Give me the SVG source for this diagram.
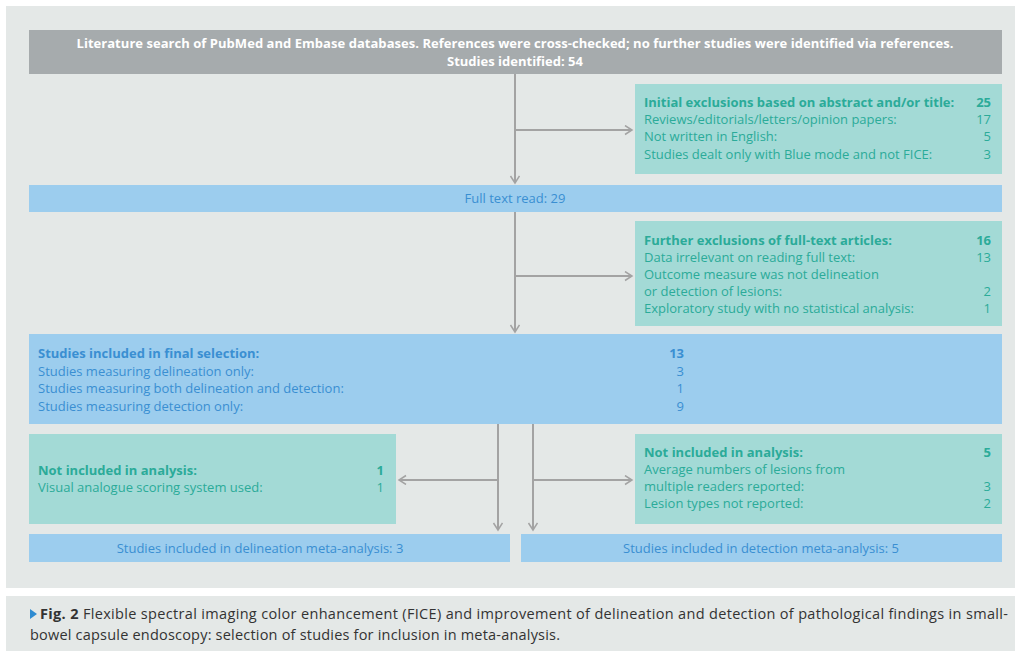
<svg xmlns="http://www.w3.org/2000/svg" width="1021" height="651" viewBox="0 0 1021 651">
<defs>
<style>
text{font-family:"Open Sans","Liberation Sans",sans-serif;font-size:13px}
.b{font-weight:bold}
.w{fill:#ffffff}
.t{fill:#2bab99}
.u{fill:#3a8fd2}
.e{text-anchor:end}
.m{text-anchor:middle}
.bg{fill:#e4e8e7}
.gray{fill:#a6abad}
.teal{fill:#a3dad6}
.blue{fill:#9ccdee}
.c{stroke:#a3a3a3;stroke-width:2;fill:none}
.cap{fill:#333333;font-size:14.5px}
</style>
<marker id="ah" markerUnits="userSpaceOnUse" markerWidth="12" markerHeight="12" refX="8" refY="5" orient="auto">
<path d="M1,0.5 L8,5 L1,9.5" fill="none" stroke="#a3a3a3" stroke-width="1.5"/>
</marker>
</defs>
<rect x="0" y="0" width="1021" height="651" fill="#ffffff"/>
<rect class="bg" x="6" y="6" width="1009" height="582"/>
<rect class="bg" x="6" y="596" width="1009" height="55"/>

<g id="connectors">
<path class="c" d="M515,74 V183" marker-end="url(#ah)"/>
<path class="c" d="M515,130 H632" marker-end="url(#ah)"/>
<path class="c" d="M515,212 V332" marker-end="url(#ah)"/>
<path class="c" d="M515,276 H632" marker-end="url(#ah)"/>
<path class="c" d="M498,424 V530" marker-end="url(#ah)"/>
<path class="c" d="M533,424 V530" marker-end="url(#ah)"/>
<path class="c" d="M498,480 H399" marker-end="url(#ah)"/>
<path class="c" d="M533,480 H632" marker-end="url(#ah)"/>
</g>

<g id="search">
<rect class="gray" x="29" y="30" width="973" height="44"/>
<text class="w b m" x="515" y="48" font-size="12.5" textLength="877">Literature search of PubMed and Embase databases. References were cross-checked; no further studies were identified via references.</text>
<text class="w b m" x="515" y="66" font-size="12.5">Studies identified: 54</text>
</g>

<g id="initial-exclusions">
<rect class="teal" x="635" y="84" width="367" height="90"/>
<text class="t b" x="644" y="107">Initial exclusions based on abstract and/or title:</text>
<text class="t b e" x="991" y="107">25</text>
<text class="t" x="644" y="124">Reviews/editorials/letters/opinion papers:</text>
<text class="t e" x="991" y="124">17</text>
<text class="t" x="644" y="141">Not written in English:</text>
<text class="t e" x="991" y="141">5</text>
<text class="t" x="644" y="159">Studies dealt only with Blue mode and not FICE:</text>
<text class="t e" x="991" y="159">3</text>
</g>

<g id="full-text">
<rect class="blue" x="29" y="185" width="973" height="27"/>
<text class="u m" x="515" y="203">Full text read: 29</text>
</g>

<g id="further-exclusions">
<rect class="teal" x="635" y="221" width="367" height="105"/>
<text class="t b" x="644" y="245">Further exclusions of full-text articles:</text>
<text class="t b e" x="991" y="245">16</text>
<text class="t" x="644" y="262">Data irrelevant on reading full text:</text>
<text class="t e" x="991" y="262">13</text>
<text class="t" x="644" y="279">Outcome measure was not delineation</text>
<text class="t" x="644" y="296">or detection of lesions:</text>
<text class="t e" x="991" y="296">2</text>
<text class="t" x="644" y="313">Exploratory study with no statistical analysis:</text>
<text class="t e" x="991" y="313">1</text>
</g>

<g id="final-selection">
<rect class="blue" x="29" y="334" width="973" height="90"/>
<text class="u b" x="38" y="358">Studies included in final selection:</text>
<text class="u b e" x="684" y="358">13</text>
<text class="u" x="38" y="376">Studies measuring delineation only:</text>
<text class="u e" x="684" y="376">3</text>
<text class="u" x="38" y="393">Studies measuring both delineation and detection:</text>
<text class="u e" x="684" y="393">1</text>
<text class="u" x="38" y="411">Studies measuring detection only:</text>
<text class="u e" x="684" y="411">9</text>
</g>

<g id="not-included-left">
<rect class="teal" x="29" y="434" width="367" height="90"/>
<text class="t b" x="38" y="475">Not included in analysis:</text>
<text class="t b e" x="384" y="475">1</text>
<text class="t" x="38" y="492">Visual analogue scoring system used:</text>
<text class="t e" x="384" y="492">1</text>
</g>

<g id="not-included-right">
<rect class="teal" x="635" y="434" width="367" height="90"/>
<text class="t b" x="644" y="457">Not included in analysis:</text>
<text class="t b e" x="991" y="457">5</text>
<text class="t" x="644" y="474">Average numbers of lesions from</text>
<text class="t" x="644" y="491">multiple readers reported:</text>
<text class="t e" x="991" y="491">3</text>
<text class="t" x="644" y="508">Lesion types not reported:</text>
<text class="t e" x="991" y="508">2</text>
</g>

<g id="delineation">
<rect class="blue" x="29" y="534" width="481" height="28"/>
<text class="u m" x="260" y="553">Studies included in delineation meta-analysis: 3</text>
</g>

<g id="detection">
<rect class="blue" x="521" y="534" width="481" height="28"/>
<text class="u m" x="761" y="553">Studies included in detection meta-analysis: 5</text>
</g>

<g id="caption">
<polygon points="30,609 37,614 30,619" fill="#2e8bd1"/>
<text class="cap" x="40" y="619" textLength="968"><tspan class="b">Fig. 2</tspan>  Flexible spectral imaging color enhancement (FICE) and improvement of delineation and detection of pathological findings in small-</text>
<text class="cap" x="30" y="640" textLength="530">bowel capsule endoscopy: selection of studies for inclusion in meta-analysis.</text>
</g>
</svg>
